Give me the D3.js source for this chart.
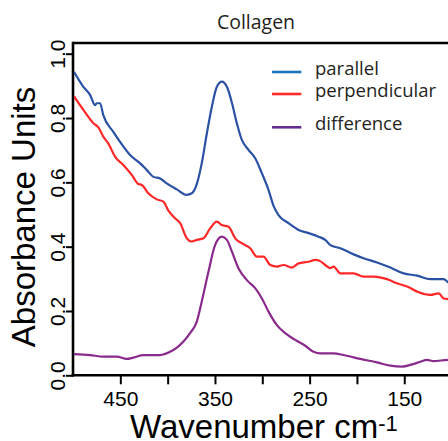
<!DOCTYPE html>
<html>
<head>
<meta charset="utf-8">
<script src="https://cdn.jsdelivr.net/npm/d3@7/dist/d3.min.js"></script>
<style>
html,body{margin:0;padding:0;background:#fff;}
svg{display:block;}
</style>
</head>
<body>
<svg id="chart" width="448" height="441"></svg>
<script>
const chartTitle = "Collagen";
const seriesNames = ["parallel", "perpendicular", "difference"];
const xTicks = [450, 400, 350, 300, 250, 200, 150];
const xTickLabels = ["450", "", "350", "", "250", "", "150"];
const yTicks = [0, 0.2, 0.4, 0.6, 0.8, 1.0];
const yTickLabels = ["0.0", "0.2", "0.4", "0.6", "0.8", "1.0"];

const parallelWn = [499,489,482,476.7,475,471.4,468,457.4,450.3,439.7,429,422,415,408,401,390.3,380,374.5,369,364,358.6,353.3,348,342.7,337.4,332,326.9,321.6,314.6,307.5,300.4,293.4,288,282.9,272.3,261.7,251.1,240.6,233.5,228.2,217.6,203.5,193,178.8,164.7,150.7,136.5,122.4,108.4,103.4,100];
const parallelAbs = [0.944,0.897,0.872,0.840,0.846,0.846,0.809,0.757,0.726,0.685,0.659,0.638,0.617,0.612,0.597,0.578,0.561,0.566,0.597,0.659,0.752,0.835,0.897,0.913,0.897,0.846,0.784,0.732,0.701,0.675,0.628,0.576,0.526,0.498,0.473,0.452,0.442,0.431,0.421,0.405,0.395,0.376,0.364,0.351,0.335,0.317,0.310,0.299,0.299,0.289,0.287];

const perpWn = [499,489,478.5,473.2,468,462.7,455.6,446.8,437.9,431,427.3,420.4,411.5,404.5,399.2,392.1,386.8,379.7,374.5,369,362.2,355.1,348,342.7,335.7,328.6,318.1,312.8,305.7,298.7,291.6,284.6,277.6,268.7,261.7,251.1,244,238.8,233.5,228.2,224.7,217.6,203.5,193,182.4,168.2,157.6,147,134.8,122.4,113.6,108.4,103.4,100];
const perpAbs = [0.868,0.825,0.784,0.771,0.742,0.721,0.680,0.654,0.623,0.595,0.592,0.566,0.547,0.540,0.512,0.488,0.473,0.426,0.416,0.421,0.426,0.457,0.478,0.467,0.462,0.426,0.405,0.395,0.369,0.369,0.343,0.338,0.343,0.335,0.348,0.353,0.359,0.355,0.343,0.333,0.338,0.317,0.317,0.307,0.307,0.299,0.286,0.276,0.258,0.250,0.255,0.239,0.237,0.236];

const diffWn = [499,482,468,453.8,443.2,436.2,425.6,408,397.4,390.3,383.3,376.3,369.2,364,356.9,349.9,342.7,337.4,332,325.2,316.3,307.5,300.4,293.4,284.6,275.8,265.2,254.6,245.8,238.8,224.7,214.1,196.5,178.8,164.7,152.4,141.8,133.1,126,119,103.4,100];
const diffAbs = [0.066,0.063,0.058,0.058,0.051,0.055,0.063,0.063,0.073,0.086,0.105,0.131,0.167,0.229,0.322,0.405,0.431,0.421,0.384,0.333,0.296,0.271,0.239,0.198,0.156,0.131,0.110,0.092,0.073,0.068,0.068,0.063,0.051,0.040,0.030,0.027,0.034,0.042,0.048,0.044,0.048,0.048];

const curveColors = ["#2a51a4", "#ff2727", "#8a2a8c"];
const legendColors = ["#1c75bc", "#ff2a2a", "#662d91"];

const svg = d3.select("#chart");
const pL = 73, pR = 451.6, pT = 43, pB = 375.3;

const x = d3.scaleLinear().domain([500, 100]).range([pL, pR]);
const y = d3.scaleLinear().domain([0, 1]).range([pB, 53.7]);

// top border
svg.append("line")
  .attr("x1", pL).attr("x2", 448)
  .attr("y1", pT).attr("y2", pT)
  .attr("stroke", "#000").attr("stroke-width", 2.6);

// x axis
const xAxis = d3.axisBottom(x).tickValues(xTicks).tickSize(9).tickSizeOuter(0)
  .tickFormat((d, i) => xTickLabels[i]);
const gx = svg.append("g").attr("transform", `translate(0,${pB})`).call(xAxis);
gx.select(".domain").attr("stroke-width", 2.6).attr("d", `M${pL - 1.3},0H${450}`);
gx.selectAll(".tick line").attr("stroke-width", 2);
gx.selectAll(".tick text")
  .attr("y", 31).attr("dy", null)
  .attr("font-family", "'Liberation Sans', Arial, sans-serif")
  .attr("font-size", 21).attr("fill", "#000");

// y axis
const yAxis = d3.axisLeft(y).tickValues(yTicks).tickSize(7).tickSizeOuter(0)
  .tickFormat((d, i) => yTickLabels[i]);
const gy = svg.append("g").attr("transform", `translate(${pL},0)`).call(yAxis);
gy.select(".domain").attr("stroke-width", 2.6).attr("d", `M0,${pT - 1.3}V${pB + 1.3}`);
gy.selectAll(".tick line").attr("stroke-width", 2);
gy.selectAll(".tick text")
  .attr("x", null).attr("dy", null)
  .attr("text-anchor", "middle")
  .attr("transform", "translate(-8,0) rotate(-90)")
  .attr("font-family", "'Liberation Sans', Arial, sans-serif")
  .attr("font-size", 21).attr("fill", "#000");

// curves
const line = d3.line().x(d => x(d[0])).y(d => y(d[1])).curve(d3.curveMonotoneX);
svg.append("clipPath").attr("id", "clip").append("rect")
  .attr("x", pL + 1).attr("y", pT + 1).attr("width", pR - pL).attr("height", pB - pT - 2);
const data = [
  d3.zip(parallelWn, parallelAbs),
  d3.zip(perpWn, perpAbs),
  d3.zip(diffWn, diffAbs)
];
svg.append("g").attr("clip-path", "url(#clip)")
  .selectAll("path").data(data).join("path")
  .attr("d", line)
  .attr("fill", "none")
  .attr("stroke", (d, i) => curveColors[i])
  .attr("stroke-width", 2.2)
  .attr("stroke-linejoin", "round");

// title
svg.append("text").attr("x", 256).attr("y", 29).attr("text-anchor", "middle")
  .attr("font-family", "'Open Sans', sans-serif").attr("font-size", 19.5)
  .attr("fill", "#231f20").text(chartTitle);

// legend
const legY = [72, 94, 127.3];
const legTextY = [74.5, 97, 130];
const leg = svg.append("g");
seriesNames.forEach((name, i) => {
  leg.append("line").attr("x1", 272).attr("x2", 301.3)
    .attr("y1", legY[i]).attr("y2", legY[i])
    .attr("stroke", legendColors[i]).attr("stroke-width", 2.6);
  leg.append("text").attr("x", 315).attr("y", legTextY[i])
    .attr("font-family", "'Open Sans', sans-serif").attr("font-size", 18.5)
    .attr("fill", "#231f20").text(name);
});

// axis titles
svg.append("text")
  .attr("transform", "translate(35,217) rotate(-90)")
  .attr("text-anchor", "middle")
  .attr("font-family", "'Liberation Sans', Arial, sans-serif")
  .attr("font-size", 33).attr("fill", "#000")
  .text("Absorbance Units");

const xt = svg.append("text").attr("x", 130).attr("y", 438)
  .attr("font-family", "'Liberation Sans', Arial, sans-serif")
  .attr("font-size", 33).attr("fill", "#000");
xt.append("tspan").text("Wavenumber cm");
xt.append("tspan").attr("font-size", 22).attr("dy", -7).text("-1");
</script>
</body>
</html>
